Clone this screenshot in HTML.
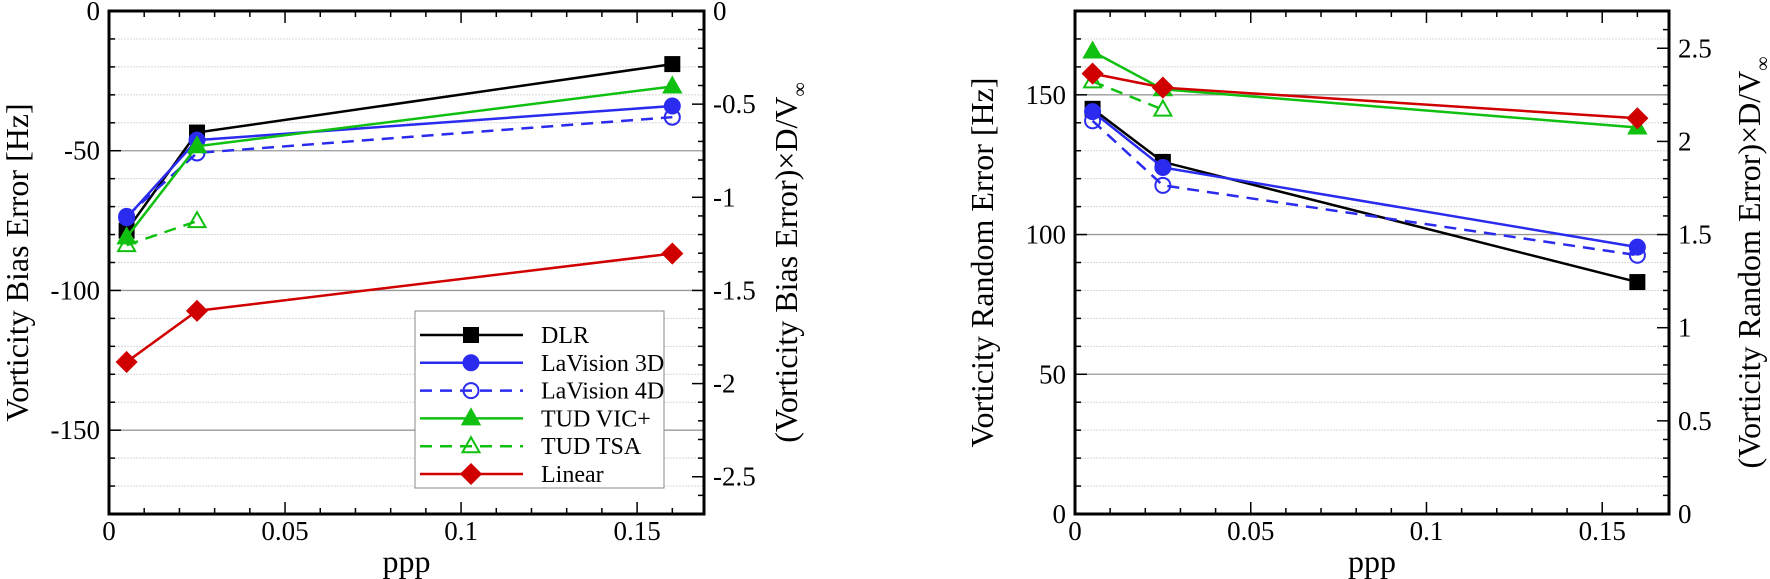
<!DOCTYPE html>
<html><head><meta charset="utf-8"><style>
html,body{margin:0;padding:0;background:#fff;}
svg{display:block;font-family:"Liberation Serif",serif;}
</style></head><body>
<svg id="svg" width="1770" height="579" viewBox="0 0 1770 579" xmlns="http://www.w3.org/2000/svg"></svg>
<script>
const ppp = [0.005, 0.025, 0.16];
const seriesNames = ["DLR","LaVision 3D","LaVision 4D","TUD VIC+","TUD TSA","Linear"];
const biasDLR = [-78.6, -43.5, -19];
const biasLaV3D = [-74, -46.2, -34];
const biasLaV4D = [-73.5, -50.8, -38];
const biasVIC = [-81, -48.4, -27];
const biasTSA = [-83.8, -75.2];
const biasLinear = [-125.6, -107.3, -86.8];
const randDLR = [145, 126, 83];
const randLaV3D = [144, 124, 95.5];
const randLaV4D = [140.7, 117.6, 92.6];
const randVIC = [165.5, 152, 138.3];
const randTSA = [154.8, 144.7];
const randLinear = [157.6, 152.6, 141.6];
const xTicks = [0, 0.05, 0.1, 0.15];
const xTickLabels = ["0","0.05","0.1","0.15"];
const biasTicks = [0,-50,-100,-150];
const biasRightTicks = [0,-0.5,-1,-1.5,-2,-2.5];
const randTicks = [0,50,100,150];
const randRightTicks = [0,0.5,1,1.5,2,2.5];

const NS="http://www.w3.org/2000/svg";
const svg=document.getElementById('svg');
function mk(tag,attrs,parent){const e=document.createElementNS(NS,tag);for(const k in attrs)e.setAttribute(k,attrs[k]);(parent||svg).appendChild(e);return e;}

const styles=[
 {c:"#000",dash:null,m:"square",fill:true},
 {c:"#2b2bf0",dash:null,m:"circle",fill:true},
 {c:"#2b2bf0",dash:"12,8",m:"circle",fill:false},
 {c:"#10c010",dash:null,m:"tri",fill:true},
 {c:"#10c010",dash:"12,8",m:"tri",fill:false},
 {c:"#d00000",dash:null,m:"diamond",fill:true}
];
function marker(g,type,x,y,c,fill){
  const f=fill?c:"#fff";let e;
  if(type==="square")e=mk('rect',{x:x-7,y:y-7,width:14,height:14,fill:f,stroke:c,'stroke-width':2},g);
  else if(type==="circle")e=mk('circle',{cx:x,cy:y,r:7.5,fill:fill?c:"none",stroke:c,'stroke-width':2},g);
  else if(type==="tri")e=mk('polygon',{points:`${x},${y-9} ${x+8.5},${y+6} ${x-8.5},${y+6}`,fill:fill?c:"none",stroke:c,'stroke-width':2},g);
  else e=mk('polygon',{points:`${x},${y-10} ${x+10},${y} ${x},${y+10} ${x-10},${y}`,fill:f,stroke:c,'stroke-width':1.5},g);
  
  
}

function chart(o){
  const g=mk('g',{});
  
  
  const L=o.L,R=o.R,T=11,B=514;
  const sx=v=>L+(v/0.169)*(R-L);
  const sy=v=>T+(o.ymax-v)/(o.ymax-o.ymin)*(B-T);
  const syR=v=>sy(v*66.6667);
  for(let v=o.ymin;v<=o.ymax;v+=10){ if(v%50===0) continue;
    const l=mk('line',{x1:L,x2:R,y1:sy(v),y2:sy(v),stroke:"#d8d8d8",'stroke-width':1,'stroke-dasharray':"2,1"},g);
    }
  o.ticks.forEach(v=>{ if(v===0)return;
    const l=mk('line',{x1:L,x2:R,y1:sy(v),y2:sy(v),stroke:"#999",'stroke-width':1.3},g);
    });
  const tk=mk('g',{stroke:"#000",'stroke-width':1.5},g);
  
  for(let i=0;i<=16;i++){const v=i*0.01,x=sx(v),len=(i%5===0)?12:6;
    mk('line',{x1:x,x2:x,y1:B,y2:B-len},tk);mk('line',{x1:x,x2:x,y1:T,y2:T+len},tk);}
  for(let v=o.ymin;v<=o.ymax;v+=10){const len=(v%50===0)?12:6;mk('line',{x1:L,x2:L+len,y1:sy(v),y2:sy(v)},tk);}
  for(let i=0;i<=27;i++){const v=o.rsign*i*0.1;const y=syR(v);if(y<T-0.5||y>B+0.5)continue;const len=(i%5===0)?12:6;mk('line',{x1:R,x2:R-len,y1:y,y2:y},tk);}
  const fr=mk('rect',{x:L,y:T,width:R-L,height:B-T,fill:"none",stroke:"#000",'stroke-width':3},g);
  
  xTicks.forEach((v,i)=>{const t=mk('text',{x:sx(v),y:540,'font-size':27,'text-anchor':'middle'},g);t.textContent=xTickLabels[i];
    });
  o.ticks.forEach(v=>{const t=mk('text',{x:L-9,y:sy(v)+9,'font-size':27,'text-anchor':'end'},g);t.textContent=String(v);
    });
  o.rticks.forEach(v=>{const t=mk('text',{x:R+9,y:syR(v)+9,'font-size':27},g);t.textContent=String(v);
    });
  const xt=mk('text',{x:(L+R)/2,y:572,'font-size':32,'text-anchor':'middle'},g);xt.textContent="ppp";
  
  const yt=mk('text',{transform:`translate(${o.ytx},${(T+B)/2}) rotate(-90)`,'font-size':32,'text-anchor':'middle'},g);yt.textContent=o.ytitle;
  
  const y2=mk('text',{transform:`translate(${o.y2x},${(T+B)/2}) rotate(-90)`,'font-size':32,'text-anchor':'middle'},g);
  
  y2.appendChild(document.createTextNode(o.y2title+"×D/V"));
  const sub=mk('tspan',{'font-size':20,dy:9},y2);sub.textContent="∞";
  o.data.forEach((d,si)=>{const s=styles[si];
    const sg=mk('g',{},g);
    
    
    const pts=d.map((v,i)=>sx(ppp[i])+","+sy(v)).join(" ");
    const pl=mk('polyline',{points:pts,fill:"none",stroke:s.c,'stroke-width':2.5},sg);
    if(s.dash)pl.setAttribute('stroke-dasharray',s.dash);
    
    d.forEach((v,i)=>marker(sg,s.m,sx(ppp[i]),sy(v),s.c,s.fill));
  });
  return g;
}

chart({name:"bias-error-chart",L:109,R:704,ymin:-180,ymax:0,ticks:biasTicks,rticks:biasRightTicks,rsign:-1,
  ytx:28,ytitle:"Vorticity Bias Error [Hz]",y2x:797,y2title:"(Vorticity Bias Error)",
  data:[biasDLR,biasLaV3D,biasLaV4D,biasVIC,biasTSA,biasLinear]});
chart({name:"random-error-chart",L:1075,R:1669,ymin:0,ymax:180,ticks:randTicks,rticks:randRightTicks,rsign:1,
  ytx:993,ytitle:"Vorticity Random Error [Hz]",y2x:1760,y2title:"(Vorticity Random Error)",
  data:[randDLR,randLaV3D,randLaV4D,randVIC,randTSA,randLinear]});

const lg=mk('g',{});


mk('rect',{x:415,y:311,width:249,height:177,fill:"#fff",stroke:"#888",'stroke-width':1},lg);
seriesNames.forEach((n,i)=>{const s=styles[i],y=335+i*27.8;
  const e=mk('g',{},lg);
  
  
  const l=mk('line',{x1:420,x2:523,y1:y,y2:y,stroke:s.c,'stroke-width':2.5},e);
  if(s.dash)l.setAttribute('stroke-dasharray',s.dash);
  marker(e,s.m,471,y,s.c,s.fill);
  const t=mk('text',{x:541,y:y+8,'font-size':24},e);t.textContent=n;
});
</script>
</body></html>
